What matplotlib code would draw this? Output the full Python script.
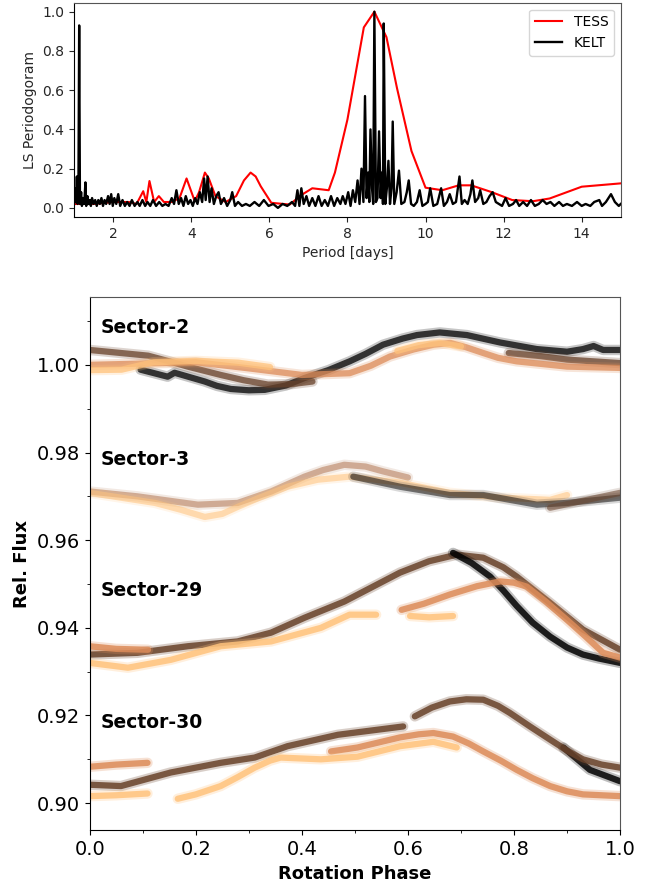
import numpy as np
import matplotlib
matplotlib.use("Agg")
import matplotlib.pyplot as plt
from matplotlib.ticker import MultipleLocator

# ---- periodogram (period [days], normalised power) ----
tess_period = [1.0, 1.5, 2.0, 2.4, 2.6, 2.77, 2.85, 2.93, 3.05, 3.17, 3.3, 3.5, 3.7,
               3.88, 4.09, 4.2, 4.35, 4.45, 4.62, 4.88, 5.15, 5.35, 5.52, 5.65, 5.78,
               6.05, 6.52, 6.84, 7.1, 7.52, 7.68, 8.0, 8.42, 8.69, 9.0, 9.27, 9.64,
               10.0, 10.43, 10.85, 11.17, 11.7, 12.22, 12.75, 13.18, 14.0, 15.0]
tess_power = [0.02, 0.02, 0.03, 0.03, 0.02, 0.085, 0.03, 0.137, 0.03, 0.06, 0.03, 0.03, 0.05,
              0.15, 0.034, 0.08, 0.18, 0.15, 0.06, 0.03, 0.06, 0.14, 0.18, 0.16, 0.11,
              0.026, 0.017, 0.068, 0.10, 0.09, 0.18, 0.45, 0.92, 1.0, 0.87, 0.61, 0.29,
              0.103, 0.09, 0.115, 0.115, 0.08, 0.04, 0.034, 0.048, 0.108, 0.125]

kelt_period = [1.00, 1.03, 1.05, 1.07, 1.09, 1.11, 1.13, 1.15, 1.18, 1.20, 1.23, 1.26, 1.29,
               1.31, 1.34, 1.37, 1.40, 1.43, 1.46, 1.50, 1.54, 1.58, 1.62, 1.66, 1.70, 1.74,
               1.78, 1.82, 1.87, 1.91, 1.95, 1.99, 2.03, 2.08, 2.13, 2.18, 2.24, 2.30, 2.36,
               2.42, 2.48, 2.55, 2.62, 2.68, 2.75, 2.82, 2.88, 2.95, 3.02, 3.10, 3.18, 3.26,
               3.34, 3.42, 3.50, 3.56, 3.62, 3.68, 3.74, 3.80, 3.86, 3.92, 3.98, 4.04, 4.10,
               4.16, 4.22, 4.28, 4.33, 4.37, 4.42, 4.47, 4.52, 4.58, 4.64, 4.70, 4.76, 4.84,
               4.92, 5.00, 5.05, 5.12, 5.20, 5.30, 5.40, 5.50, 5.62, 5.74, 5.86, 5.98, 6.10,
               6.22, 6.34, 6.46, 6.58, 6.66, 6.72, 6.77, 6.82, 6.88, 6.95, 7.02, 7.10, 7.18,
               7.26, 7.34, 7.42, 7.50, 7.58, 7.66, 7.74, 7.82, 7.88, 7.95, 8.02, 8.08, 8.14,
               8.20, 8.26, 8.31, 8.36, 8.41, 8.45, 8.49, 8.53, 8.56, 8.59, 8.63, 8.66, 8.69,
               8.73, 8.77, 8.81, 8.85, 8.88, 8.91, 8.93, 8.97, 9.01, 9.05, 9.09, 9.13, 9.16,
               9.20, 9.26, 9.32, 9.38, 9.46, 9.52, 9.57, 9.63, 9.70, 9.78, 9.85, 9.92, 10.00,
               10.06, 10.12, 10.20, 10.30, 10.40, 10.47, 10.55, 10.62, 10.70, 10.78, 10.87,
               10.93, 11.00, 11.08, 11.15, 11.20, 11.27, 11.35, 11.40, 11.48, 11.56, 11.64,
               11.72, 11.80, 11.88, 11.96, 12.05, 12.14, 12.24, 12.32, 12.40, 12.50, 12.60,
               12.70, 12.80, 12.90, 13.00, 13.10, 13.20, 13.30, 13.42, 13.52, 13.62, 13.75,
               13.88, 14.00, 14.10, 14.22, 14.32, 14.45, 14.52, 14.62, 14.75, 14.85, 14.95,
               15.00]
kelt_power = [0.02, 0.10, 0.03, 0.16, 0.02, 0.05, 0.93, 0.02, 0.08, 0.01, 0.05, 0.02, 0.13,
              0.01, 0.06, 0.02, 0.04, 0.01, 0.05, 0.02, 0.04, 0.01, 0.04, 0.02, 0.05, 0.01,
              0.04, 0.02, 0.06, 0.02, 0.07, 0.01, 0.05, 0.02, 0.07, 0.01, 0.04, 0.01, 0.03,
              0.01, 0.04, 0.01, 0.03, 0.01, 0.04, 0.01, 0.03, 0.01, 0.04, 0.01, 0.03, 0.01,
              0.02, 0.01, 0.05, 0.02, 0.09, 0.02, 0.05, 0.01, 0.06, 0.02, 0.04, 0.01, 0.05,
              0.02, 0.08, 0.03, 0.15, 0.04, 0.16, 0.03, 0.10, 0.02, 0.06, 0.08, 0.02, 0.05,
              0.01, 0.04, 0.08, 0.01, 0.03, 0.01, 0.02, 0.01, 0.03, 0.01, 0.04, 0.01, 0.02,
              0.00, 0.02, 0.01, 0.03, 0.01, 0.09, 0.01, 0.10, 0.02, 0.06, 0.01, 0.05, 0.01,
              0.06, 0.01, 0.04, 0.01, 0.06, 0.01, 0.05, 0.02, 0.06, 0.02, 0.08, 0.01, 0.09,
              0.03, 0.14, 0.02, 0.20, 0.03, 0.57, 0.05, 0.18, 0.03, 0.40, 0.10, 0.02, 1.00,
              0.03, 0.05, 0.39, 0.05, 0.18, 0.02, 0.94, 0.02, 0.10, 0.24, 0.02, 0.10, 0.44,
              0.02, 0.08, 0.19, 0.02, 0.03, 0.08, 0.14, 0.02, 0.01, 0.03, 0.09, 0.01, 0.02,
              0.03, 0.10, 0.01, 0.02, 0.10, 0.01, 0.03, 0.07, 0.02, 0.03, 0.16,
              0.02, 0.04, 0.02, 0.07, 0.14, 0.03, 0.05, 0.09, 0.02, 0.03, 0.06,
              0.08, 0.03, 0.02, 0.01, 0.05, 0.01, 0.02, 0.04, 0.01, 0.03, 0.01,
              0.04, 0.01, 0.02, 0.04, 0.02, 0.03, 0.01, 0.03, 0.01, 0.02, 0.01,
              0.03, 0.01, 0.02, 0.01, 0.03, 0.04, 0.01, 0.03, 0.07, 0.03, 0.01,
              0.02]

# ---- phase-folded light curves, one list per orbit segment ----
# Sector-2
s2_black_phase = [0.096, 0.147, 0.16, 0.217, 0.24, 0.266, 0.3, 0.33, 0.37, 0.405, 0.45,
                  0.49, 0.52, 0.553, 0.59, 0.617, 0.66, 0.711, 0.774, 0.843, 0.9, 0.93,
                  0.95, 0.968, 1.0]
s2_black_flux = [0.9989, 0.9973, 0.9982, 0.9962, 0.9952, 0.9945, 0.9942, 0.9943, 0.9953,
                 0.9970, 0.9988, 1.0008, 1.0025, 1.0046, 1.0060, 1.0068, 1.0074, 1.0068,
                 1.0051, 1.0036, 1.0030, 1.0036, 1.0043, 1.0034, 1.0034]
s2_brown_a_phase = [0.0, 0.11, 0.15, 0.185, 0.247, 0.29, 0.336, 0.38, 0.42]
s2_brown_a_flux = [1.0034, 1.0021, 1.0008, 0.9996, 0.9977, 0.9965, 0.9955, 0.9956, 0.9962]
s2_brown_b_phase = [0.79, 0.85, 0.9, 0.95, 1.0]
s2_brown_b_flux = [1.0027, 1.0020, 1.0012, 1.0008, 1.0004]
s2_orange_phase = [0.0, 0.1, 0.2, 0.3, 0.4, 0.49, 0.53, 0.566, 0.61, 0.648, 0.68, 0.71,
                   0.742, 0.77, 0.805, 0.9, 1.0]
s2_orange_flux = [1.0000, 1.0003, 1.0006, 0.9992, 0.9977, 0.9981, 0.9998, 1.0019, 1.0035,
                  1.0046, 1.0050, 1.0040, 1.0027, 1.0016, 1.0008, 0.9996, 0.9993]
s2_peach_a_phase = [0.0, 0.06, 0.12, 0.2, 0.28, 0.34]
s2_peach_a_flux = [0.9988, 0.9989, 1.0006, 1.0009, 1.0005, 0.9995]
s2_peach_b_phase = [0.58, 0.62, 0.66, 0.70]
s2_peach_b_flux = [1.0032, 1.0045, 1.0050, 1.0042]

# Sector-3
s3_brown_a_phase = [0.0, 0.09, 0.204, 0.279, 0.342, 0.405, 0.44, 0.48, 0.52, 0.553, 0.6]
s3_brown_a_flux = [0.9711, 0.9700, 0.9681, 0.9685, 0.9711, 0.9745, 0.9760, 0.9772, 0.9768,
                   0.9757, 0.9743]
s3_brown_b_phase = [0.868, 0.93, 1.0]
s3_brown_b_flux = [0.9674, 0.9690, 0.9708]
s3_peach_phase = [0.0, 0.123, 0.17, 0.217, 0.25, 0.279, 0.32, 0.373, 0.43, 0.49, 0.585,
                  0.679, 0.774, 0.868, 0.9]
s3_peach_flux = [0.9708, 0.9685, 0.9670, 0.9653, 0.9660, 0.9676, 0.9697, 0.9722, 0.9738,
                 0.9745, 0.9731, 0.9708, 0.9697, 0.9692, 0.9703]
s3_black_phase = [0.497, 0.585, 0.679, 0.742, 0.843, 0.9, 1.0]
s3_black_flux = [0.9745, 0.9722, 0.9703, 0.9703, 0.9681, 0.9685, 0.9697]

# Sector-29
s29_brown_phase = [0.0, 0.09, 0.185, 0.279, 0.342, 0.405, 0.48, 0.585, 0.64, 0.692, 0.742,
                   0.78, 0.805, 0.868, 0.93, 1.0]
s29_brown_flux = [0.9339, 0.9343, 0.9358, 0.9369, 0.9389, 0.9423, 0.9460, 0.9526, 0.9552,
                  0.9567, 0.9560, 0.9538, 0.9517, 0.9457, 0.9396, 0.9350]
s29_black_phase = [0.685, 0.72, 0.755, 0.78, 0.805, 0.835, 0.868, 0.9, 0.93, 0.96, 1.0]
s29_black_flux = [0.9571, 0.9548, 0.9517, 0.9485, 0.9450, 0.9412, 0.9380, 0.9355, 0.9339,
                  0.9330, 0.9320]
s29_orange_a_phase = [0.0, 0.05, 0.11]
s29_orange_a_flux = [0.9358, 0.9352, 0.9350]
s29_orange_b_phase = [0.588, 0.63, 0.679, 0.73, 0.774, 0.80, 0.824, 0.86, 0.9, 0.935,
                      0.968, 1.0]
s29_orange_b_flux = [0.9441, 0.9455, 0.9476, 0.9495, 0.9506, 0.9503, 0.9494, 0.9460,
                     0.9418, 0.9380, 0.9343, 0.9332]
s29_peach_a_phase = [0.0, 0.072, 0.153, 0.247, 0.342, 0.436, 0.49, 0.54]
s29_peach_a_flux = [0.9320, 0.9309, 0.9327, 0.9358, 0.9369, 0.9400, 0.9430, 0.9430]
s29_peach_b_phase = [0.604, 0.64, 0.685]
s29_peach_b_flux = [0.9427, 0.9424, 0.9427]

# Sector-30
s30_brown_a_phase = [0.0, 0.059, 0.153, 0.247, 0.311, 0.373, 0.468, 0.591]
s30_brown_a_flux = [0.9042, 0.9039, 0.9070, 0.9092, 0.9104, 0.9130, 0.9156, 0.9175]
s30_brown_b_phase = [0.613, 0.645, 0.679, 0.71, 0.742, 0.77, 0.792, 0.83, 0.868, 0.9,
                     0.93, 0.965, 1.0]
s30_brown_b_flux = [0.9198, 0.9218, 0.9232, 0.9237, 0.9236, 0.9222, 0.9206, 0.9175,
                    0.9145, 0.9120, 0.9100, 0.9088, 0.9081]
s30_black_phase = [0.893, 0.943, 1.0]
s30_black_flux = [0.9127, 0.9076, 0.9050]
s30_orange_a_phase = [0.0, 0.05, 0.109]
s30_orange_a_flux = [0.9083, 0.9088, 0.9092]
s30_orange_b_phase = [0.455, 0.505, 0.585, 0.62, 0.648, 0.685, 0.715, 0.742, 0.775, 0.805,
                      0.835, 0.868, 0.9, 0.93, 1.0]
s30_orange_b_flux = [0.9118, 0.9127, 0.9150, 0.9157, 0.9160, 0.9152, 0.9136, 0.9118,
                     0.9097, 0.9076, 0.9057, 0.9039, 0.9027, 0.9020, 0.9016]
s30_peach_a_phase = [0.0, 0.05, 0.109]
s30_peach_a_flux = [0.9016, 0.9018, 0.9022]
s30_peach_b_phase = [0.166, 0.2, 0.247, 0.28, 0.311, 0.34, 0.36, 0.436, 0.505, 0.585,
                     0.648, 0.692]
s30_peach_b_flux = [0.9010, 0.9020, 0.9039, 0.9060, 0.9081, 0.9097, 0.9104, 0.9100,
                    0.9106, 0.9130, 0.9140, 0.9127]

sector_labels = ["Sector-2", "Sector-3", "Sector-29", "Sector-30"]
sector_label_y = [1.0085, 0.9785, 0.9485, 0.9185]


def band(ax, x, y, color, alpha=0.85):
    # fuzzy halo + dense core, to look like a thick cloud of points
    ax.plot(x, y, color=color, lw=7.5, alpha=alpha * 0.3,
            solid_capstyle="round", solid_joinstyle="round")
    ax.plot(x, y, color=color, lw=4.5, alpha=alpha,
            solid_capstyle="round", solid_joinstyle="round")


def main():
    cmap = plt.get_cmap("copper")
    c_black = cmap(0.0)
    c_brown = cmap(0.33)
    c_orange = cmap(0.7)
    c_peach = cmap(0.98)
    c_rosy = cmap(0.55)

    fig = plt.figure(figsize=(6.5, 8.89), dpi=100)

    # top: periodogram
    ax1 = fig.add_axes([0.114, 0.756, 0.841, 0.241])
    ax1.plot(tess_period, tess_power, color="red", lw=1.5, label="TESS")
    ax1.plot(kelt_period, kelt_power, color="black", lw=1.7, label="KELT")
    ax1.set_xlim(1, 15)
    ax1.set_ylim(-0.046, 1.046)
    ax1.set_xticks(range(2, 15, 2))
    ax1.set_yticks(np.arange(0, 1.01, 0.2))
    ax1.tick_params(labelsize=10, colors="#262626")
    ax1.set_xlabel("Period [days]", fontsize=10, color="#262626")
    ax1.set_ylabel("LS Periodogoram", fontsize=10, color="#262626")
    ax1.legend(loc="upper right", fontsize=10)
    for s in ["top", "right"]:
        ax1.spines[s].set_color("#555555")

    # bottom: folded light curves
    ax2 = fig.add_axes([0.138, 0.066, 0.816, 0.600])

    # Sector-2
    band(ax2, s2_black_phase, s2_black_flux, c_black, 0.75)
    band(ax2, s2_brown_a_phase, s2_brown_a_flux, c_brown, 0.75)
    band(ax2, s2_brown_b_phase, s2_brown_b_flux, c_brown, 0.75)
    band(ax2, s2_orange_phase, s2_orange_flux, c_orange, 0.75)
    band(ax2, s2_peach_a_phase, s2_peach_a_flux, c_peach, 0.75)
    band(ax2, s2_peach_b_phase, s2_peach_b_flux, c_peach, 0.75)

    # Sector-3 (noisier, more transparent)
    band(ax2, s3_brown_a_phase, s3_brown_a_flux, c_rosy, 0.5)
    band(ax2, s3_peach_phase, s3_peach_flux, c_peach, 0.55)
    band(ax2, s3_black_phase, s3_black_flux, c_black, 0.5)
    band(ax2, s3_brown_b_phase, s3_brown_b_flux, c_brown, 0.55)

    # Sector-29
    band(ax2, s29_brown_phase, s29_brown_flux, c_brown)
    band(ax2, s29_black_phase, s29_black_flux, c_black)
    band(ax2, s29_orange_a_phase, s29_orange_a_flux, c_orange)
    band(ax2, s29_orange_b_phase, s29_orange_b_flux, c_orange)
    band(ax2, s29_peach_a_phase, s29_peach_a_flux, c_peach)
    band(ax2, s29_peach_b_phase, s29_peach_b_flux, c_peach)

    # Sector-30
    band(ax2, s30_black_phase, s30_black_flux, c_black)
    band(ax2, s30_brown_a_phase, s30_brown_a_flux, c_brown)
    band(ax2, s30_brown_b_phase, s30_brown_b_flux, c_brown)
    band(ax2, s30_orange_a_phase, s30_orange_a_flux, c_orange)
    band(ax2, s30_orange_b_phase, s30_orange_b_flux, c_orange)
    band(ax2, s30_peach_a_phase, s30_peach_a_flux, c_peach)
    band(ax2, s30_peach_b_phase, s30_peach_b_flux, c_peach)

    for lab, y in zip(sector_labels, sector_label_y):
        ax2.text(0.02, y, lab, fontsize=13.5, fontweight="bold", va="center", ha="left")

    ax2.xaxis.set_major_locator(MultipleLocator(0.2))
    ax2.xaxis.set_minor_locator(MultipleLocator(0.1))
    ax2.yaxis.set_major_locator(MultipleLocator(0.02))
    ax2.yaxis.set_minor_locator(MultipleLocator(0.01))
    ax2.xaxis.set_major_formatter(lambda v, pos: f"{v:.1f}")
    ax2.yaxis.set_major_formatter(lambda v, pos: f"{v:.2f}")
    ax2.set_xlim(0, 1)
    ax2.set_ylim(0.8938, 1.0155)
    ax2.tick_params(labelsize=14)
    ax2.set_xlabel("Rotation Phase", fontsize=13, fontweight="bold")
    ax2.set_ylabel("Rel. Flux", fontsize=13, fontweight="bold")
    for s in ["top", "right"]:
        ax2.spines[s].set_color("#555555")

    fig.savefig("out.png", dpi=100)
    plt.close(fig)


if __name__ == "__main__":
    main()
